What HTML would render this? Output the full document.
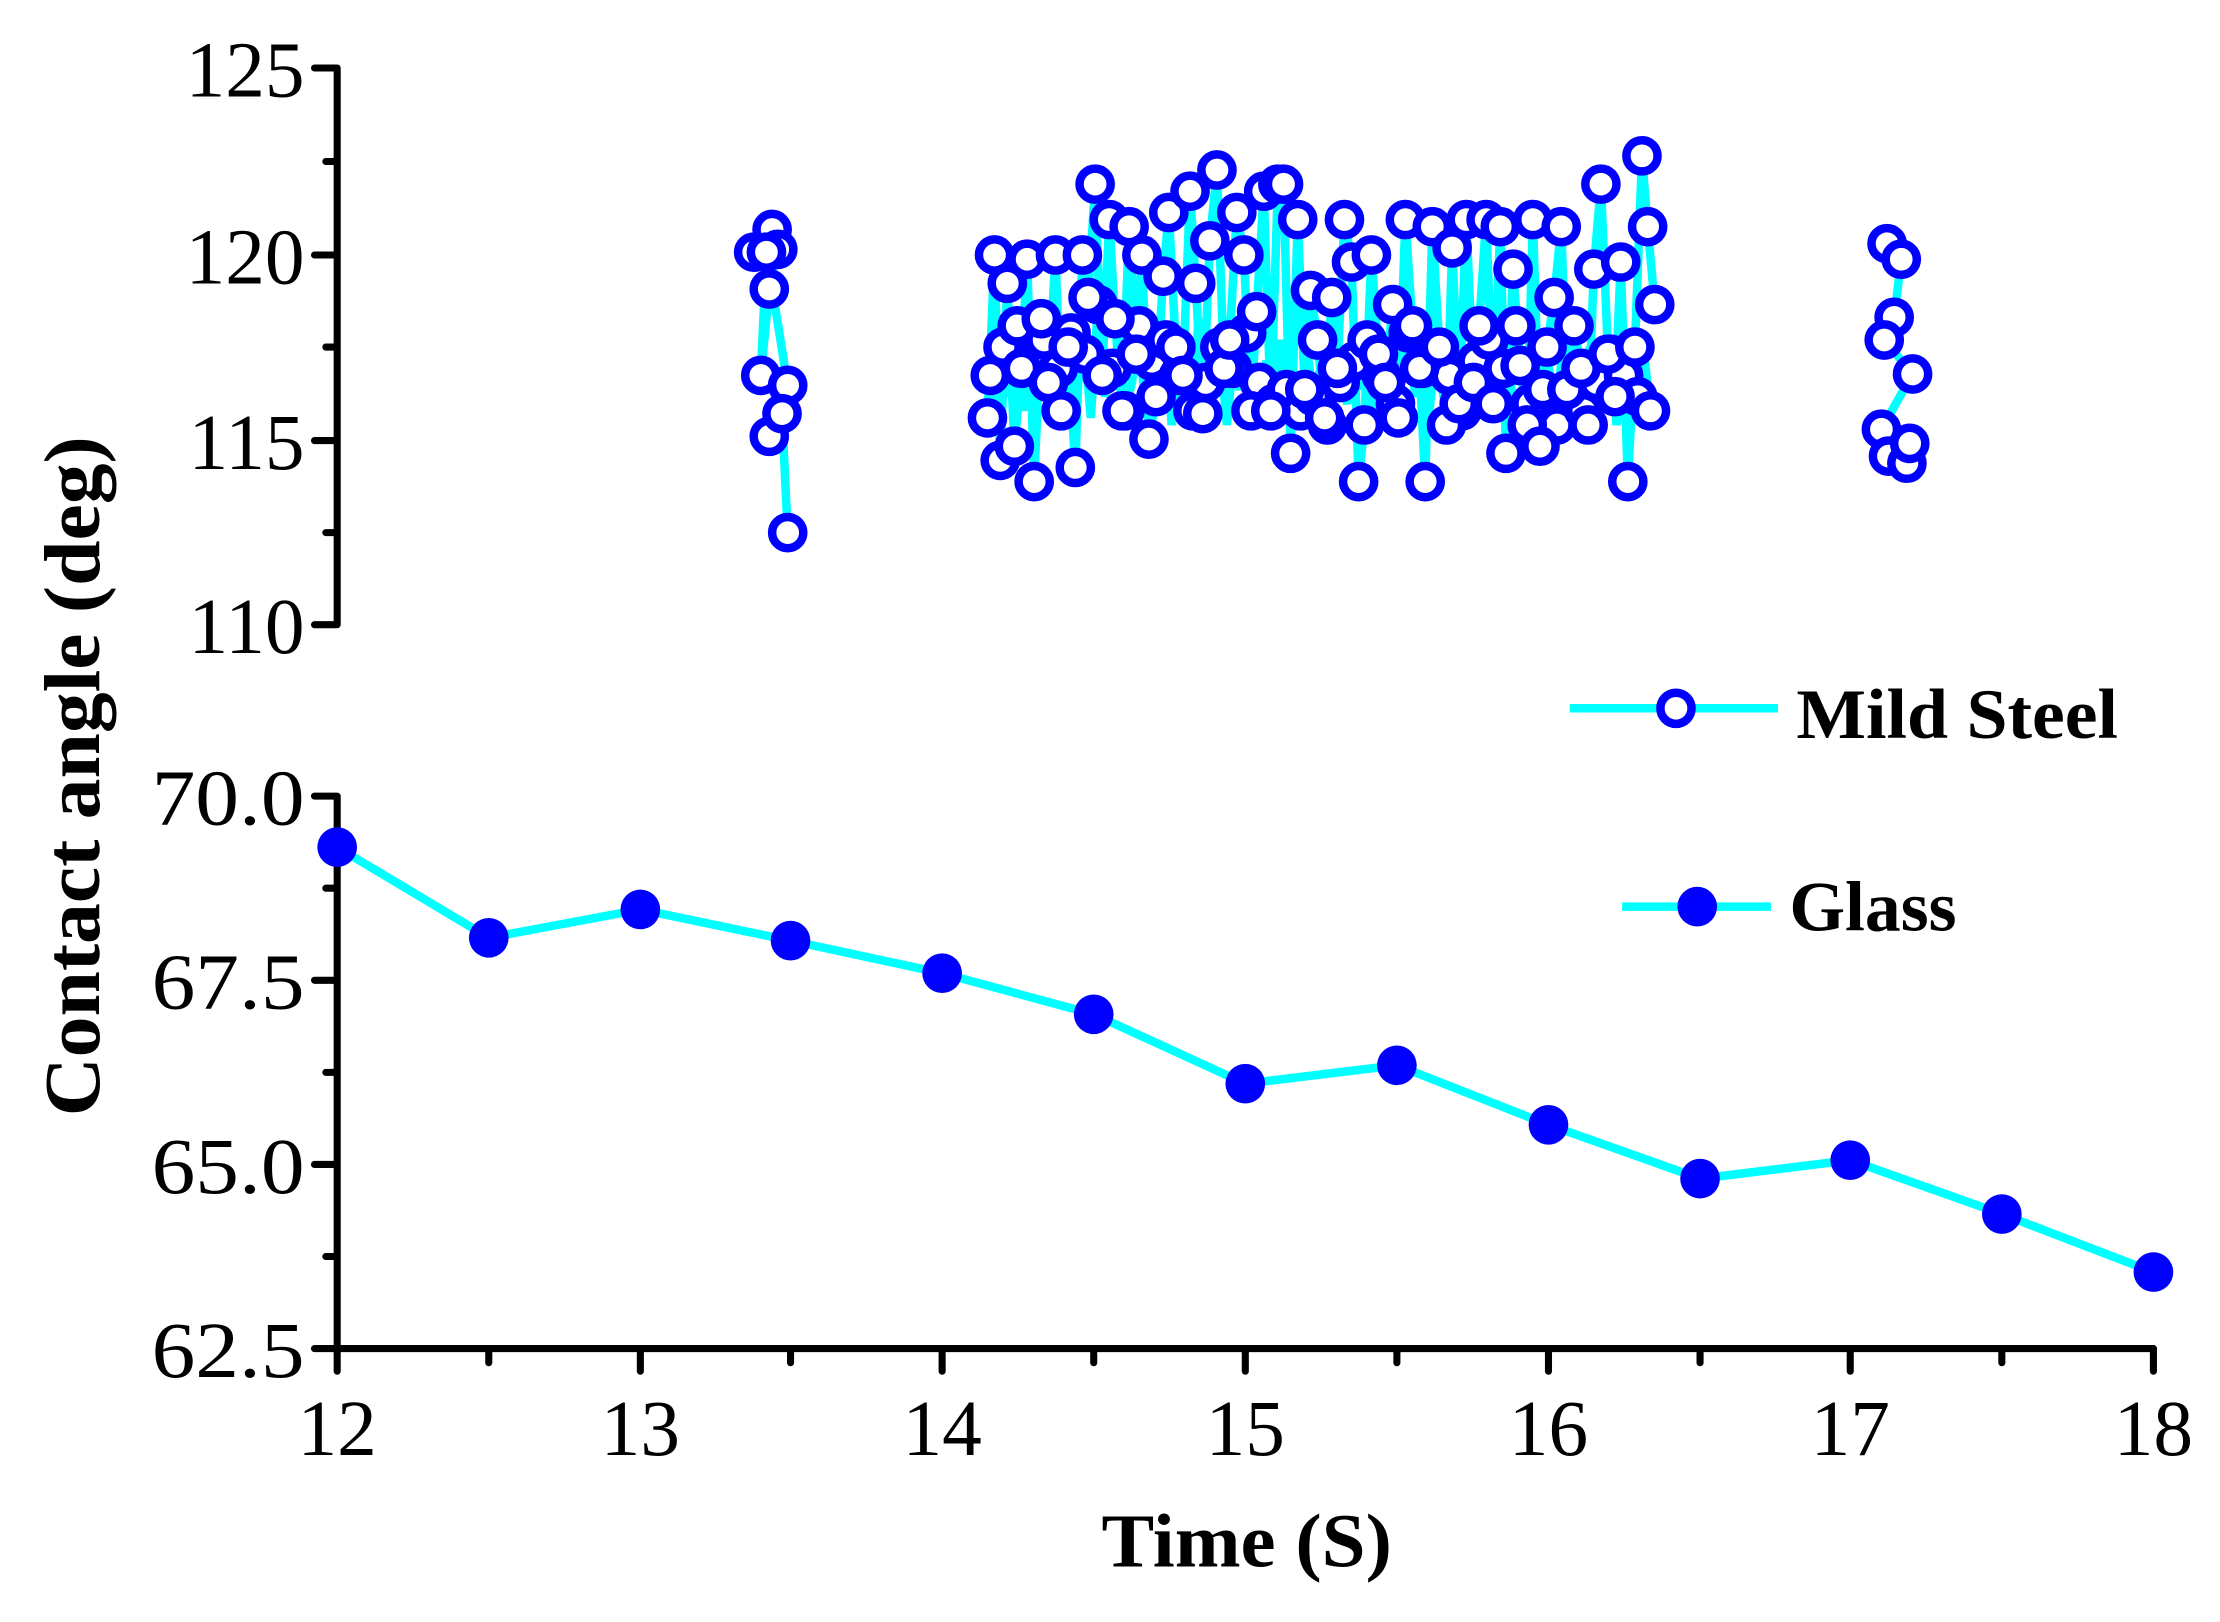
<!DOCTYPE html>
<html><head><meta charset="utf-8"><style>html,body{margin:0;padding:0;background:#fff}svg{display:block}</style></head>
<body>
<svg width="2220" height="1622" viewBox="0 0 1567 1145" preserveAspectRatio="none" xmlns="http://www.w3.org/2000/svg">
<rect width="1567" height="1145" fill="#fff"/>
<g stroke="#000" stroke-width="5" stroke-linecap="round" fill="none">
<path d="M238 48V441M222 48H238M230 114H238M222 180H238M230 245H238M222 311H238M230 376H238M222 441H238"/>
<path d="M238 562V952H1520M222 562H238M230 627H238M222 692H238M230 757H238M222 822H238M230 887H238M222 952H238"/>
<path d="M238 952V968M345 952V962M452 952V968M558 952V962M665 952V968M772 952V962M879 952V968M986 952V962M1093 952V968M1200 952V962M1306 952V968M1413 952V962M1520 952V968"/>
</g>
<g font-family="Liberation Serif, serif" font-size="56" fill="#000" text-anchor="end">
<text x="215" y="68">125</text><text x="215" y="200">120</text><text x="215" y="331">115</text><text x="215" y="461">110</text>
<text x="215" y="582" textLength="108" lengthAdjust="spacingAndGlyphs">70.0</text><text x="215" y="712" textLength="108" lengthAdjust="spacingAndGlyphs">67.5</text><text x="215" y="842" textLength="108" lengthAdjust="spacingAndGlyphs">65.0</text><text x="215" y="972" textLength="108" lengthAdjust="spacingAndGlyphs">62.5</text>
</g>
<g font-family="Liberation Serif, serif" font-size="56" fill="#000" text-anchor="middle">
<text x="238" y="1027">12</text><text x="452" y="1027">13</text><text x="665" y="1027">14</text><text x="879" y="1027">15</text><text x="1093" y="1027">16</text><text x="1306" y="1027">17</text><text x="1520" y="1027">18</text>
</g>
<text x="880" y="1106" font-family="Liberation Serif, serif" font-weight="bold" font-size="54" text-anchor="middle" textLength="205" lengthAdjust="spacingAndGlyphs">Time (S)</text>
<text transform="translate(70,548) rotate(-90)" font-family="Liberation Serif, serif" font-weight="bold" font-size="56" text-anchor="middle" textLength="480" lengthAdjust="spacingAndGlyphs">Contact angle (deg)</text>

<g fill="none" stroke="#00ffff" stroke-width="6">
<polyline points="532,178 545,162 549,176 543,204 537,265 541,178 556,272 543,308 552,292 556,376"/>
<polyline points="1332,172 1342,183 1337,224 1330,240 1350,264 1328,303 1333,322 1346,327 1348,313"/>
<polyline points="697,295 702,180 706,325 711,200 716,315 721,260 725,183 730,340 735,225 740,270 745,180 749,290 754,245 759,330 764,180 768,210 773,130 778,265 783,155 787,225 792,290 797,160 802,250 806,180 811,310 816,280 821,195 825,150 830,245 835,265 840,135 844,200 849,292 854,170 859,120 864,260 868,240 873,150 878,180 883,290 887,220 892,135 897,290 902,130 906,130 911,320 916,155 921,275 925,205 930,240 935,295 940,210 944,260 949,155 954,185 959,340 963,300 968,180 973,250 978,270 983,215 987,295 992,155 997,230 1002,260 1006,340 1011,160 1016,245 1021,300 1025,175 1030,285 1035,155 1040,270 1044,230 1049,155 1054,285 1059,160 1063,320 1068,190 1073,258 1078,300 1082,155 1087,315 1092,245 1097,210 1102,160 1106,275 1111,230 1116,260 1121,300 1125,190 1130,130 1135,250 1140,280 1144,185 1149,340 1154,245 1159,110 1163,160 1168,215"/>
<polyline points="699,265 704,300 708,245 713,280 718,230 723,290 727,255 732,275 737,240 742,300 747,260 751,285 756,235 761,270 766,250 770,295 775,215 780,280 785,260 789,245 794,290 799,270 804,230 808,285 813,255 818,275 823,240 827,300 832,265 837,250 842,290 846,225 851,270 856,280 861,245 866,300 870,260 875,275 880,235 885,295 889,270 894,255 899,285 904,240 908,275 913,265 918,290 923,250 927,280 932,260 937,300 942,245 946,270 951,285 956,255 961,275 965,240 970,295 975,265 980,250 985,285 989,270 994,235 999,280 1004,260 1008,300 1013,250 1018,275 1023,265 1027,240 1032,290 1037,270 1042,255 1046,285 1051,240 1056,275 1061,260 1065,295 1070,230 1075,270 1080,285 1084,250 1089,275 1094,265 1099,300 1103,240 1108,280 1113,260 1118,290 1122,245 1127,270 1132,285 1137,250 1141,300 1146,265 1151,240 1156,280 1161,255 1165,290"/>
</g>

<g fill="#fff" stroke="#0000ff" stroke-width="6">
<circle cx="532" cy="178" r="11"/><circle cx="545" cy="162" r="11"/><circle cx="549" cy="176" r="11"/><circle cx="543" cy="204" r="11"/><circle cx="537" cy="265" r="11"/><circle cx="541" cy="178" r="11"/><circle cx="556" cy="272" r="11"/><circle cx="543" cy="308" r="11"/><circle cx="552" cy="292" r="11"/><circle cx="556" cy="376" r="11"/>
<circle cx="1332" cy="172" r="11"/><circle cx="1342" cy="183" r="11"/><circle cx="1337" cy="224" r="11"/><circle cx="1330" cy="240" r="11"/><circle cx="1350" cy="264" r="11"/><circle cx="1328" cy="303" r="11"/><circle cx="1333" cy="322" r="11"/><circle cx="1346" cy="327" r="11"/><circle cx="1348" cy="313" r="11"/>
<circle cx="699" cy="265" r="11"/><circle cx="708" cy="245" r="11"/><circle cx="718" cy="230" r="11"/><circle cx="727" cy="255" r="11"/><circle cx="737" cy="240" r="11"/><circle cx="747" cy="260" r="11"/><circle cx="756" cy="235" r="11"/><circle cx="766" cy="250" r="11"/><circle cx="775" cy="215" r="11"/><circle cx="785" cy="260" r="11"/><circle cx="794" cy="290" r="11"/><circle cx="804" cy="230" r="11"/><circle cx="813" cy="255" r="11"/><circle cx="823" cy="240" r="11"/><circle cx="832" cy="265" r="11"/><circle cx="842" cy="290" r="11"/><circle cx="851" cy="270" r="11"/><circle cx="861" cy="245" r="11"/><circle cx="870" cy="260" r="11"/><circle cx="880" cy="235" r="11"/><circle cx="889" cy="270" r="11"/><circle cx="899" cy="285" r="11"/><circle cx="908" cy="275" r="11"/><circle cx="918" cy="290" r="11"/><circle cx="927" cy="280" r="11"/><circle cx="937" cy="300" r="11"/><circle cx="946" cy="270" r="11"/><circle cx="956" cy="255" r="11"/><circle cx="965" cy="240" r="11"/><circle cx="975" cy="265" r="11"/><circle cx="985" cy="285" r="11"/><circle cx="994" cy="235" r="11"/><circle cx="1004" cy="260" r="11"/><circle cx="1013" cy="250" r="11"/><circle cx="1023" cy="265" r="11"/><circle cx="1032" cy="290" r="11"/><circle cx="1042" cy="255" r="11"/><circle cx="1051" cy="240" r="11"/><circle cx="1061" cy="260" r="11"/><circle cx="1070" cy="230" r="11"/><circle cx="1080" cy="285" r="11"/><circle cx="1089" cy="275" r="11"/><circle cx="1099" cy="300" r="11"/><circle cx="1108" cy="280" r="11"/><circle cx="1118" cy="290" r="11"/><circle cx="1127" cy="270" r="11"/><circle cx="1137" cy="250" r="11"/><circle cx="1146" cy="265" r="11"/><circle cx="1156" cy="280" r="11"/><circle cx="1165" cy="290" r="11"/>
<circle cx="697" cy="295" r="11"/><circle cx="702" cy="180" r="11"/><circle cx="706" cy="325" r="11"/><circle cx="711" cy="200" r="11"/><circle cx="716" cy="315" r="11"/><circle cx="721" cy="260" r="11"/><circle cx="725" cy="183" r="11"/><circle cx="730" cy="340" r="11"/><circle cx="735" cy="225" r="11"/><circle cx="740" cy="270" r="11"/><circle cx="745" cy="180" r="11"/><circle cx="749" cy="290" r="11"/><circle cx="754" cy="245" r="11"/><circle cx="759" cy="330" r="11"/><circle cx="764" cy="180" r="11"/><circle cx="768" cy="210" r="11"/><circle cx="773" cy="130" r="11"/><circle cx="778" cy="265" r="11"/><circle cx="783" cy="155" r="11"/><circle cx="787" cy="225" r="11"/><circle cx="792" cy="290" r="11"/><circle cx="797" cy="160" r="11"/><circle cx="802" cy="250" r="11"/><circle cx="806" cy="180" r="11"/><circle cx="811" cy="310" r="11"/><circle cx="816" cy="280" r="11"/><circle cx="821" cy="195" r="11"/><circle cx="825" cy="150" r="11"/><circle cx="830" cy="245" r="11"/><circle cx="835" cy="265" r="11"/><circle cx="840" cy="135" r="11"/><circle cx="844" cy="200" r="11"/><circle cx="849" cy="292" r="11"/><circle cx="854" cy="170" r="11"/><circle cx="859" cy="120" r="11"/><circle cx="864" cy="260" r="11"/><circle cx="868" cy="240" r="11"/><circle cx="873" cy="150" r="11"/><circle cx="878" cy="180" r="11"/><circle cx="883" cy="290" r="11"/><circle cx="887" cy="220" r="11"/><circle cx="892" cy="135" r="11"/><circle cx="897" cy="290" r="11"/><circle cx="902" cy="130" r="11"/><circle cx="906" cy="130" r="11"/><circle cx="911" cy="320" r="11"/><circle cx="916" cy="155" r="11"/><circle cx="921" cy="275" r="11"/><circle cx="925" cy="205" r="11"/><circle cx="930" cy="240" r="11"/><circle cx="935" cy="295" r="11"/><circle cx="940" cy="210" r="11"/><circle cx="944" cy="260" r="11"/><circle cx="949" cy="155" r="11"/><circle cx="954" cy="185" r="11"/><circle cx="959" cy="340" r="11"/><circle cx="963" cy="300" r="11"/><circle cx="968" cy="180" r="11"/><circle cx="973" cy="250" r="11"/><circle cx="978" cy="270" r="11"/><circle cx="983" cy="215" r="11"/><circle cx="987" cy="295" r="11"/><circle cx="992" cy="155" r="11"/><circle cx="997" cy="230" r="11"/><circle cx="1002" cy="260" r="11"/><circle cx="1006" cy="340" r="11"/><circle cx="1011" cy="160" r="11"/><circle cx="1016" cy="245" r="11"/><circle cx="1021" cy="300" r="11"/><circle cx="1025" cy="175" r="11"/><circle cx="1030" cy="285" r="11"/><circle cx="1035" cy="155" r="11"/><circle cx="1040" cy="270" r="11"/><circle cx="1044" cy="230" r="11"/><circle cx="1049" cy="155" r="11"/><circle cx="1054" cy="285" r="11"/><circle cx="1059" cy="160" r="11"/><circle cx="1063" cy="320" r="11"/><circle cx="1068" cy="190" r="11"/><circle cx="1073" cy="258" r="11"/><circle cx="1078" cy="300" r="11"/><circle cx="1082" cy="155" r="11"/><circle cx="1087" cy="315" r="11"/><circle cx="1092" cy="245" r="11"/><circle cx="1097" cy="210" r="11"/><circle cx="1102" cy="160" r="11"/><circle cx="1106" cy="275" r="11"/><circle cx="1111" cy="230" r="11"/><circle cx="1116" cy="260" r="11"/><circle cx="1121" cy="300" r="11"/><circle cx="1125" cy="190" r="11"/><circle cx="1130" cy="130" r="11"/><circle cx="1135" cy="250" r="11"/><circle cx="1140" cy="280" r="11"/><circle cx="1144" cy="185" r="11"/><circle cx="1149" cy="340" r="11"/><circle cx="1154" cy="245" r="11"/><circle cx="1159" cy="110" r="11"/><circle cx="1163" cy="160" r="11"/><circle cx="1168" cy="215" r="11"/>
</g>

<polyline fill="none" stroke="#00ffff" stroke-width="6" stroke-linejoin="round" points="238,598 345,662 452,642 558,664 665,687 772,716 879,765 986,752 1093,794 1200,832 1306,819 1413,857 1520,898"/>
<g fill="#0000ff">
<circle cx="238" cy="598" r="14"/><circle cx="345" cy="662" r="14"/><circle cx="452" cy="642" r="14"/><circle cx="558" cy="664" r="14"/><circle cx="665" cy="687" r="14"/><circle cx="772" cy="716" r="14"/><circle cx="879" cy="765" r="14"/><circle cx="986" cy="752" r="14"/><circle cx="1093" cy="794" r="14"/><circle cx="1200" cy="832" r="14"/><circle cx="1306" cy="819" r="14"/><circle cx="1413" cy="857" r="14"/><circle cx="1520" cy="898" r="14"/>
</g>

<line x1="1108" y1="500" x2="1255" y2="500" stroke="#00ffff" stroke-width="6"/>
<circle cx="1183" cy="500" r="11" fill="#fff" stroke="#0000ff" stroke-width="6"/>
<text x="1268" y="521" font-family="Liberation Serif, serif" font-weight="bold" font-size="50" textLength="227" lengthAdjust="spacingAndGlyphs">Mild Steel</text>
<line x1="1145" y1="640" x2="1250" y2="640" stroke="#00ffff" stroke-width="6"/>
<circle cx="1198" cy="640" r="14" fill="#0000ff"/>
<text x="1263" y="657" font-family="Liberation Serif, serif" font-weight="bold" font-size="50" textLength="118" lengthAdjust="spacingAndGlyphs">Glass</text>
</svg>
</body></html>
